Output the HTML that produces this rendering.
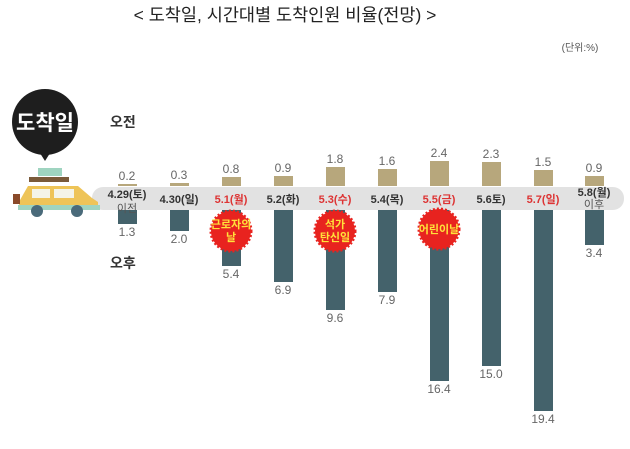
<!DOCTYPE html>
<html><head><meta charset="utf-8"><style>
body{margin:0;background:#fff}
svg{display:block;font-family:"Liberation Sans","Noto Sans CJK KR",sans-serif}
</style></head><body>
<svg width="630" height="449" viewBox="0 0 630 449" xmlns="http://www.w3.org/2000/svg">
<text x="285" y="21" text-anchor="middle" font-size="17.5" fill="#222">&lt; 도착일, 시간대별 도착인원 비율(전망) &gt;</text>
<text x="580" y="51" text-anchor="middle" font-size="10" fill="#555">(단위:%)</text>
<circle cx="45" cy="122" r="33" fill="#1e1e1e"/>
<polygon points="38,150 52,150 45,161" fill="#1e1e1e"/>
<text x="45" y="130" text-anchor="middle" font-size="21" font-weight="bold" fill="#fff">도착일</text>
<text x="110" y="127" font-size="14" font-weight="bold" fill="#333">오전</text>
<text x="110" y="268" font-size="14" font-weight="bold" fill="#333">오후</text>
<rect x="92" y="187" width="532" height="23" rx="11" fill="#e2e2e2"/>
<rect x="38" y="168" width="24" height="8" fill="#9fd4c0"/>
<rect x="29" y="177" width="40" height="5" fill="#7a5a3a"/>
<path d="M20 200 L28 186 L78 186 L92 198 L98 202 L98 210 L18 210 Z" fill="#eec458"/>
<rect x="32" y="189" width="18" height="9" fill="#f4f4e8"/>
<rect x="54" y="189" width="20" height="9" fill="#f4f4e8"/>
<rect x="13" y="194" width="7" height="10" fill="#8a4a2a"/>
<rect x="18" y="205" width="82" height="5" fill="#9fd4c0"/>
<circle cx="37" cy="211" r="6" fill="#4a6a7a"/>
<circle cx="77" cy="211" r="6" fill="#4a6a7a"/>
<g font-size="11" text-anchor="middle">
<g fill="#b7a77c">
<rect x="118" y="184" width="19" height="2"/>
<rect x="170" y="183" width="19" height="3"/>
<rect x="222" y="177" width="19" height="9"/>
<rect x="274" y="176" width="19" height="10"/>
<rect x="326" y="167" width="19" height="19"/>
<rect x="378" y="169" width="19" height="17"/>
<rect x="430" y="161" width="19" height="25"/>
<rect x="482" y="162" width="19" height="24"/>
<rect x="534" y="170" width="19" height="16"/>
<rect x="585" y="176" width="19" height="10"/>
</g>
<g fill="#44626b">
<rect x="118" y="210" width="19" height="14"/>
<rect x="170" y="210" width="19" height="21"/>
<rect x="222" y="210" width="19" height="56"/>
<rect x="274" y="210" width="19" height="72"/>
<rect x="326" y="210" width="19" height="100"/>
<rect x="378" y="210" width="19" height="82"/>
<rect x="430" y="210" width="19" height="171"/>
<rect x="482" y="210" width="19" height="156"/>
<rect x="534" y="210" width="19" height="201"/>
<rect x="585" y="210" width="19" height="35"/>
</g>
<g fill="#666" font-size="12">
<text x="127" y="180">0.2</text><text x="179" y="179">0.3</text><text x="231" y="173">0.8</text><text x="283" y="172">0.9</text><text x="335" y="163">1.8</text><text x="387" y="165">1.6</text><text x="439" y="157">2.4</text><text x="491" y="158">2.3</text><text x="543" y="166">1.5</text><text x="594" y="172">0.9</text>
<text x="127" y="236">1.3</text><text x="179" y="243">2.0</text><text x="231" y="278">5.4</text><text x="283" y="294">6.9</text><text x="335" y="322">9.6</text><text x="387" y="304">7.9</text><text x="439" y="393">16.4</text><text x="491" y="378">15.0</text><text x="543" y="423">19.4</text><text x="594" y="257">3.4</text>
</g>
<g font-weight="bold">
<text x="127" y="198" fill="#333">4.29(토)</text><text x="127" y="212" fill="#555" font-weight="normal">이전</text>
<text x="179" y="203" fill="#333">4.30(일)</text>
<text x="231" y="203" fill="#d33">5.1(월)</text>
<text x="283" y="203" fill="#333">5.2(화)</text>
<text x="335" y="203" fill="#d33">5.3(수)</text>
<text x="387" y="203" fill="#333">5.4(목)</text>
<text x="439" y="203" fill="#d33">5.5(금)</text>
<text x="491" y="203" fill="#333">5.6토)</text>
<text x="543" y="203" fill="#d33">5.7(일)</text>
<text x="594" y="196" fill="#333">5.8(월)</text><text x="594" y="208" fill="#555" font-weight="normal">이후</text>
</g>
<g fill="#e8231f" stroke="#e8231f" stroke-width="3" stroke-dasharray="2 2">
<circle cx="231" cy="231" r="20"/><circle cx="335" cy="231" r="20"/><circle cx="439" cy="229" r="20"/>
</g>
<g fill="#ffe13a" font-weight="bold" font-size="11">
<text x="231" y="228">근로자의</text><text x="231" y="241">날</text>
<text x="335" y="228">석가</text><text x="335" y="241">탄신일</text>
<text x="439" y="233">어린이날</text>
</g>
</g>
</svg>
</body></html>
